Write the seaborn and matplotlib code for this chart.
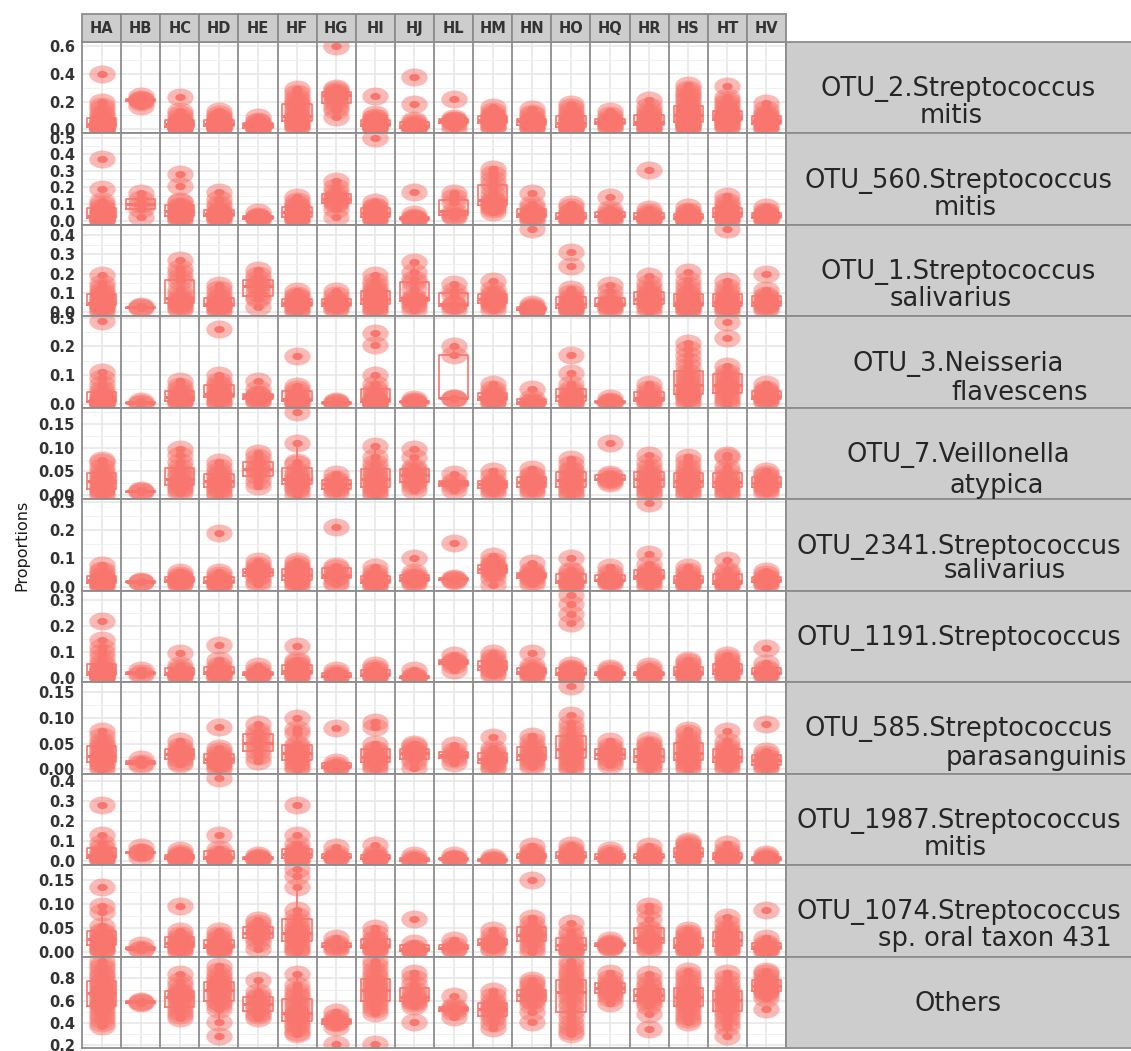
import numpy as np
import pandas as pd
import seaborn as sns
import matplotlib
matplotlib.use("Agg")
import matplotlib.pyplot as plt
from matplotlib.path import Path
from matplotlib.transforms import Affine2D
from matplotlib.patches import Rectangle
from matplotlib.ticker import MultipleLocator, FormatStrFormatter

plt.rcParams["font.family"] = ["DejaVu Sans"]
plt.rcParams["font.weight"] = "bold"

# ---------------------------------------------------------------- data
groups = ["HA", "HB", "HC", "HD", "HE", "HF", "HG", "HI", "HJ",
          "HL", "HM", "HN", "HO", "HQ", "HR", "HS", "HT", "HV"]

taxa_line1 = ["OTU_2.Streptococcus", "OTU_560.Streptococcus", "OTU_1.Streptococcus",
              "OTU_3.Neisseria", "OTU_7.Veillonella", "OTU_2341.Streptococcus",
              "OTU_1191.Streptococcus", "OTU_585.Streptococcus", "OTU_1987.Streptococcus",
              "OTU_1074.Streptococcus", "Others"]
taxa_line2 = ["mitis", "mitis", "salivarius", "flavescens", "atypica", "salivarius",
              "", "parasanguinis", "mitis", "sp. oral taxon 431", ""]

# proportions per subject, one list per group (order of `groups`)
otu2_mitis = [
    [0.40, 0.20, 0.17, 0.15, 0.12, 0.10, 0.08, 0.07, 0.06, 0.05, 0.05, 0.04, 0.04, 0.03, 0.03, 0.03, 0.02, 0.02, 0.02, 0.01, 0.01, 0.01, 0.005, 0.0, 0.0],
    [0.24, 0.22, 0.21, 0.21, 0.20, 0.17],
    [0.23, 0.13, 0.11, 0.09, 0.07, 0.06, 0.05, 0.04, 0.04, 0.04, 0.03, 0.03, 0.02, 0.02, 0.01, 0.01, 0.0],
    [0.13, 0.11, 0.09, 0.08, 0.07, 0.06, 0.05, 0.05, 0.04, 0.04, 0.04, 0.03, 0.03, 0.03, 0.02, 0.02, 0.01, 0.01, 0.0],
    [0.09, 0.06, 0.05, 0.04, 0.03, 0.03, 0.02, 0.01, 0.0, 0.0],
    [0.29, 0.26, 0.23, 0.21, 0.19, 0.18, 0.16, 0.14, 0.12, 0.10, 0.09, 0.08, 0.08, 0.07, 0.06, 0.05, 0.04, 0.03, 0.02, 0.01],
    [0.60, 0.30, 0.28, 0.27, 0.26, 0.25, 0.25, 0.23, 0.21, 0.19, 0.16, 0.14, 0.09],
    [0.24, 0.11, 0.09, 0.08, 0.07, 0.06, 0.05, 0.05, 0.04, 0.04, 0.03, 0.03, 0.03, 0.02, 0.02, 0.01, 0.01, 0.0],
    [0.38, 0.18, 0.07, 0.05, 0.04, 0.03, 0.02, 0.02, 0.01, 0.01, 0.0, 0.0],
    [0.22, 0.08, 0.07, 0.065, 0.06, 0.05, 0.03, 0.0],
    [0.16, 0.13, 0.11, 0.10, 0.09, 0.08, 0.08, 0.07, 0.07, 0.06, 0.05, 0.04, 0.03, 0.02, 0.01],
    [0.15, 0.12, 0.10, 0.08, 0.07, 0.07, 0.06, 0.06, 0.05, 0.04, 0.03, 0.02, 0.01, 0.0],
    [0.18, 0.16, 0.14, 0.12, 0.10, 0.09, 0.08, 0.07, 0.06, 0.05, 0.04, 0.04, 0.03, 0.03, 0.02, 0.02, 0.01, 0.01, 0.0, 0.0],
    [0.13, 0.10, 0.08, 0.07, 0.06, 0.05, 0.05, 0.04, 0.03, 0.02, 0.01],
    [0.21, 0.17, 0.14, 0.12, 0.10, 0.09, 0.08, 0.06, 0.05, 0.05, 0.04, 0.03, 0.02, 0.01, 0.0, 0.0],
    [0.32, 0.29, 0.27, 0.25, 0.23, 0.21, 0.19, 0.17, 0.15, 0.14, 0.13, 0.12, 0.11, 0.10, 0.10, 0.09, 0.08, 0.08, 0.07, 0.06, 0.06, 0.05, 0.04, 0.04, 0.03, 0.03, 0.02, 0.01, 0.0],
    [0.31, 0.23, 0.21, 0.19, 0.17, 0.15, 0.13, 0.12, 0.11, 0.10, 0.10, 0.09, 0.09, 0.09, 0.08, 0.08, 0.07, 0.07, 0.06, 0.05, 0.04, 0.03, 0.02, 0.01],
    [0.19, 0.15, 0.12, 0.10, 0.09, 0.08, 0.07, 0.06, 0.05, 0.05, 0.04, 0.03, 0.02, 0.01, 0.0],
]

otu560_mitis = [
    [0.37, 0.19, 0.12, 0.10, 0.08, 0.07, 0.06, 0.05, 0.04, 0.03, 0.03, 0.02, 0.02, 0.02, 0.01, 0.01, 0.01, 0.0, 0.0],
    [0.165, 0.13, 0.10, 0.07, 0.025],
    [0.28, 0.21, 0.12, 0.11, 0.09, 0.08, 0.07, 0.06, 0.055, 0.05, 0.04, 0.03, 0.03, 0.02, 0.01, 0.0],
    [0.17, 0.13, 0.10, 0.08, 0.06, 0.05, 0.05, 0.04, 0.04, 0.04, 0.03, 0.03, 0.02, 0.02, 0.01, 0.0],
    [0.05, 0.03, 0.025, 0.02, 0.015, 0.01, 0.005],
    [0.14, 0.12, 0.10, 0.09, 0.08, 0.07, 0.06, 0.05, 0.05, 0.04, 0.03, 0.02, 0.02, 0.01, 0.01, 0.0],
    [0.24, 0.20, 0.17, 0.15, 0.14, 0.13, 0.12, 0.11, 0.10, 0.07, 0.02],
    [0.50, 0.11, 0.09, 0.08, 0.07, 0.06, 0.05, 0.04, 0.04, 0.03, 0.02, 0.01, 0.01, 0.0],
    [0.17, 0.04, 0.02, 0.015, 0.01, 0.01, 0.005, 0.0],
    [0.165, 0.14, 0.11, 0.06, 0.04, 0.03, 0.02],
    [0.31, 0.28, 0.25, 0.22, 0.19, 0.16, 0.13, 0.12, 0.11, 0.10, 0.09, 0.08, 0.07, 0.05],
    [0.165, 0.10, 0.08, 0.06, 0.05, 0.04, 0.04, 0.03, 0.02, 0.01, 0.0],
    [0.10, 0.08, 0.06, 0.05, 0.04, 0.03, 0.03, 0.02, 0.02, 0.02, 0.01, 0.01, 0.0, 0.0],
    [0.145, 0.07, 0.05, 0.04, 0.03, 0.03, 0.02, 0.01, 0.0],
    [0.305, 0.07, 0.05, 0.04, 0.03, 0.02, 0.015, 0.01, 0.005, 0.0],
    [0.08, 0.06, 0.05, 0.04, 0.03, 0.025, 0.02, 0.015, 0.01, 0.01, 0.005, 0.0, 0.0],
    [0.15, 0.12, 0.10, 0.08, 0.07, 0.06, 0.05, 0.04, 0.03, 0.03, 0.02, 0.01, 0.01, 0.0],
    [0.08, 0.06, 0.05, 0.04, 0.04, 0.03, 0.03, 0.02, 0.01, 0.01, 0.0],
]

otu1_salivarius = [
    [0.19, 0.15, 0.13, 0.11, 0.10, 0.09, 0.08, 0.07, 0.06, 0.05, 0.05, 0.045, 0.04, 0.04, 0.03, 0.03, 0.02, 0.01, 0.0],
    [0.03, 0.025, 0.02],
    [0.27, 0.23, 0.21, 0.18, 0.16, 0.12, 0.10, 0.08, 0.07, 0.06, 0.055, 0.05, 0.04, 0.03, 0.02, 0.01],
    [0.14, 0.12, 0.10, 0.08, 0.07, 0.06, 0.05, 0.045, 0.04, 0.04, 0.03, 0.03, 0.02, 0.01, 0.0],
    [0.22, 0.19, 0.17, 0.15, 0.14, 0.13, 0.10, 0.08, 0.07, 0.025],
    [0.11, 0.09, 0.08, 0.07, 0.06, 0.055, 0.05, 0.05, 0.04, 0.03, 0.02, 0.01, 0.0],
    [0.11, 0.09, 0.07, 0.06, 0.05, 0.045, 0.04, 0.03, 0.02, 0.01],
    [0.19, 0.16, 0.14, 0.12, 0.11, 0.10, 0.09, 0.08, 0.07, 0.065, 0.06, 0.05, 0.04, 0.03, 0.02, 0.01, 0.0],
    [0.26, 0.21, 0.17, 0.155, 0.12, 0.08, 0.07, 0.065, 0.06, 0.045, 0.03, 0.01],
    [0.147, 0.11, 0.09, 0.04, 0.035, 0.03, 0.01],
    [0.16, 0.12, 0.10, 0.09, 0.08, 0.07, 0.065, 0.06, 0.05, 0.04, 0.03, 0.01],
    [0.43, 0.04, 0.03, 0.02, 0.02, 0.015, 0.01, 0.01, 0.005, 0.0],
    [0.31, 0.24, 0.12, 0.10, 0.08, 0.07, 0.06, 0.05, 0.04, 0.035, 0.03, 0.03, 0.02, 0.02, 0.01, 0.01, 0.0],
    [0.14, 0.11, 0.08, 0.06, 0.05, 0.04, 0.035, 0.03, 0.02, 0.01],
    [0.186, 0.15, 0.13, 0.11, 0.10, 0.09, 0.08, 0.07, 0.065, 0.06, 0.05, 0.04, 0.03, 0.02, 0.0],
    [0.206, 0.164, 0.14, 0.12, 0.10, 0.09, 0.08, 0.07, 0.06, 0.05, 0.045, 0.04, 0.035, 0.03, 0.03, 0.02, 0.02, 0.01, 0.0],
    [0.43, 0.16, 0.13, 0.11, 0.09, 0.08, 0.07, 0.06, 0.05, 0.04, 0.035, 0.03, 0.03, 0.02, 0.01, 0.0],
    [0.198, 0.113, 0.09, 0.08, 0.07, 0.06, 0.05, 0.04, 0.035, 0.03, 0.02, 0.01],
]

otu3_flavescens = [
    [0.29, 0.11, 0.09, 0.07, 0.05, 0.04, 0.03, 0.02, 0.02, 0.015, 0.01, 0.01, 0.01, 0.01, 0.005, 0.005, 0.005, 0.0, 0.0, 0.0, 0.0],
    [0.008, 0.004, 0.0],
    [0.08, 0.06, 0.05, 0.04, 0.03, 0.025, 0.02, 0.015, 0.01, 0.01, 0.005, 0.0],
    [0.26, 0.10, 0.08, 0.07, 0.06, 0.05, 0.04, 0.035, 0.03, 0.03, 0.025, 0.02, 0.01, 0.005, 0.0],
    [0.08, 0.05, 0.035, 0.03, 0.025, 0.02, 0.015, 0.01, 0.005],
    [0.165, 0.06, 0.05, 0.04, 0.03, 0.02, 0.015, 0.01, 0.01, 0.005, 0.0, 0.0],
    [0.008, 0.005, 0.003, 0.0],
    [0.246, 0.204, 0.10, 0.07, 0.05, 0.04, 0.03, 0.02, 0.015, 0.01, 0.01, 0.005, 0.005, 0.0, 0.0, 0.0, 0.0],
    [0.015, 0.01, 0.005, 0.005, 0.0],
    [0.20, 0.17, 0.02, 0.02, 0.015],
    [0.07, 0.05, 0.04, 0.03, 0.025, 0.02, 0.015, 0.01, 0.005, 0.0],
    [0.05, 0.02, 0.01, 0.005, 0.0, 0.0, 0.0],
    [0.168, 0.106, 0.07, 0.05, 0.04, 0.03, 0.025, 0.02, 0.015, 0.01, 0.005, 0.0, 0.0],
    [0.02, 0.01, 0.007, 0.005, 0.0],
    [0.07, 0.05, 0.04, 0.03, 0.02, 0.015, 0.01, 0.005, 0.0],
    [0.21, 0.19, 0.17, 0.15, 0.13, 0.11, 0.10, 0.09, 0.08, 0.07, 0.06, 0.05, 0.045, 0.04, 0.035, 0.03, 0.025, 0.02, 0.01, 0.0],
    [0.285, 0.23, 0.13, 0.11, 0.10, 0.09, 0.08, 0.07, 0.06, 0.055, 0.05, 0.04, 0.03, 0.02, 0.01, 0.0],
    [0.07, 0.05, 0.045, 0.04, 0.03, 0.025, 0.02, 0.015, 0.01, 0.005],
]

otu7_atypica = [
    [0.075, 0.07, 0.06, 0.05, 0.045, 0.04, 0.035, 0.03, 0.03, 0.025, 0.02, 0.015, 0.01, 0.01, 0.005, 0.0],
    [0.01, 0.008, 0.006],
    [0.098, 0.085, 0.07, 0.06, 0.05, 0.045, 0.04, 0.03, 0.028, 0.025, 0.02, 0.015, 0.01, 0.005],
    [0.07, 0.06, 0.05, 0.045, 0.04, 0.035, 0.03, 0.028, 0.025, 0.02, 0.015, 0.01, 0.005, 0.0],
    [0.09, 0.08, 0.07, 0.06, 0.055, 0.05, 0.04, 0.03, 0.02],
    [0.176, 0.11, 0.07, 0.065, 0.05, 0.045, 0.04, 0.035, 0.035, 0.03, 0.025, 0.02, 0.015, 0.01, 0.0],
    [0.045, 0.035, 0.03, 0.025, 0.02, 0.015, 0.01, 0.005],
    [0.105, 0.08, 0.067, 0.06, 0.05, 0.045, 0.04, 0.035, 0.03, 0.025, 0.02, 0.015, 0.01, 0.005, 0.0],
    [0.098, 0.08, 0.06, 0.055, 0.05, 0.045, 0.04, 0.035, 0.03, 0.025, 0.02, 0.01],
    [0.045, 0.03, 0.025, 0.02, 0.01],
    [0.05, 0.04, 0.03, 0.025, 0.023, 0.02, 0.015, 0.01, 0.005],
    [0.056, 0.045, 0.04, 0.035, 0.03, 0.028, 0.025, 0.02, 0.015, 0.01, 0.005],
    [0.077, 0.065, 0.055, 0.05, 0.045, 0.04, 0.035, 0.03, 0.025, 0.02, 0.015, 0.01, 0.005, 0.0],
    [0.11, 0.045, 0.04, 0.035, 0.035, 0.03, 0.025],
    [0.085, 0.07, 0.06, 0.05, 0.045, 0.04, 0.037, 0.03, 0.025, 0.02, 0.015, 0.01, 0.005, 0.0],
    [0.08, 0.07, 0.06, 0.05, 0.045, 0.04, 0.035, 0.03, 0.027, 0.025, 0.02, 0.015, 0.01, 0.005, 0.0],
    [0.085, 0.08, 0.06, 0.05, 0.04, 0.035, 0.03, 0.025, 0.023, 0.02, 0.015, 0.01, 0.005, 0.0],
    [0.05, 0.045, 0.04, 0.035, 0.03, 0.025, 0.022, 0.02, 0.015, 0.01, 0.005],
]

otu2341_salivarius = [
    [0.075, 0.06, 0.05, 0.04, 0.035, 0.03, 0.025, 0.02, 0.02, 0.015, 0.01, 0.01, 0.005, 0.0],
    [0.02, 0.017, 0.015],
    [0.05, 0.04, 0.035, 0.03, 0.025, 0.023, 0.02, 0.015, 0.01, 0.005],
    [0.19, 0.05, 0.04, 0.03, 0.025, 0.02, 0.015, 0.015, 0.01, 0.005, 0.0],
    [0.09, 0.075, 0.065, 0.06, 0.055, 0.05, 0.04, 0.035, 0.02, 0.01],
    [0.09, 0.08, 0.07, 0.065, 0.06, 0.055, 0.05, 0.045, 0.04, 0.035, 0.03, 0.025, 0.02, 0.015, 0.01, 0.0],
    [0.21, 0.073, 0.065, 0.05, 0.04, 0.035, 0.03, 0.015, 0.01],
    [0.07, 0.05, 0.04, 0.035, 0.03, 0.025, 0.02, 0.015, 0.01, 0.005, 0.0],
    [0.10, 0.05, 0.04, 0.035, 0.03, 0.027, 0.02, 0.015, 0.01],
    [0.156, 0.03, 0.027, 0.025, 0.02],
    [0.108, 0.09, 0.08, 0.075, 0.07, 0.065, 0.063, 0.06, 0.05, 0.045, 0.03, 0.004],
    [0.085, 0.06, 0.05, 0.045, 0.04, 0.04, 0.035, 0.03, 0.02, 0.01],
    [0.10, 0.06, 0.05, 0.04, 0.03, 0.02, 0.015, 0.015, 0.01, 0.005, 0.0],
    [0.07, 0.05, 0.04, 0.03, 0.025, 0.023, 0.02, 0.015, 0.01],
    [0.295, 0.114, 0.08, 0.06, 0.05, 0.045, 0.04, 0.037, 0.035, 0.03, 0.025, 0.02, 0.01, 0.0],
    [0.07, 0.055, 0.045, 0.035, 0.03, 0.025, 0.02, 0.015, 0.013, 0.01, 0.005, 0.0],
    [0.096, 0.06, 0.05, 0.04, 0.03, 0.02, 0.015, 0.01, 0.01, 0.005, 0.0],
    [0.055, 0.045, 0.035, 0.03, 0.025, 0.02, 0.019, 0.015, 0.01, 0.005],
]

otu1191 = [
    [0.217, 0.144, 0.12, 0.10, 0.08, 0.06, 0.05, 0.04, 0.035, 0.03, 0.03, 0.025, 0.02, 0.02, 0.02, 0.015, 0.015, 0.01, 0.01, 0.01, 0.005, 0.005, 0.0, 0.0],
    [0.03, 0.018, 0.012],
    [0.097, 0.05, 0.04, 0.03, 0.02, 0.015, 0.012, 0.01, 0.005, 0.0],
    [0.127, 0.07, 0.05, 0.04, 0.03, 0.025, 0.02, 0.018, 0.015, 0.01, 0.005, 0.0],
    [0.045, 0.03, 0.02, 0.015, 0.012, 0.01, 0.005],
    [0.123, 0.07, 0.06, 0.05, 0.045, 0.04, 0.03, 0.025, 0.024, 0.02, 0.015, 0.01, 0.005, 0.0],
    [0.03, 0.02, 0.01, 0.008, 0.005, 0.0],
    [0.05, 0.04, 0.03, 0.02, 0.015, 0.01, 0.008, 0.005, 0.0],
    [0.03, 0.01, 0.005, 0.003, 0.0, 0.0],
    [0.09, 0.07, 0.06, 0.06, 0.05, 0.03],
    [0.095, 0.08, 0.07, 0.06, 0.05, 0.046, 0.04, 0.035, 0.03, 0.02, 0.01],
    [0.095, 0.05, 0.04, 0.03, 0.025, 0.024, 0.02, 0.015, 0.01, 0.0],
    [0.319, 0.285, 0.246, 0.21, 0.05, 0.04, 0.035, 0.03, 0.025, 0.02, 0.02, 0.018, 0.015, 0.015, 0.01, 0.01, 0.01, 0.005, 0.005, 0.0, 0.0, 0.0],
    [0.04, 0.03, 0.02, 0.015, 0.012, 0.01, 0.005],
    [0.045, 0.035, 0.025, 0.02, 0.015, 0.012, 0.01, 0.005, 0.0],
    [0.07, 0.06, 0.05, 0.04, 0.03, 0.025, 0.02, 0.015, 0.012, 0.01, 0.005, 0.0],
    [0.088, 0.075, 0.065, 0.055, 0.05, 0.04, 0.035, 0.03, 0.028, 0.02, 0.015, 0.01, 0.005, 0.0],
    [0.114, 0.056, 0.04, 0.03, 0.02, 0.018, 0.015, 0.01, 0.005],
]

otu585_parasanguinis = [
    [0.075, 0.064, 0.055, 0.05, 0.045, 0.04, 0.035, 0.03, 0.027, 0.025, 0.02, 0.02, 0.015, 0.012, 0.01, 0.005, 0.0],
    [0.02, 0.012, 0.008],
    [0.055, 0.045, 0.04, 0.035, 0.031, 0.03, 0.025, 0.02, 0.015, 0.01],
    [0.082, 0.042, 0.035, 0.03, 0.025, 0.022, 0.02, 0.018, 0.015, 0.012, 0.01, 0.005, 0.0],
    [0.088, 0.075, 0.069, 0.06, 0.051, 0.045, 0.035, 0.027, 0.016],
    [0.10, 0.078, 0.07, 0.05, 0.045, 0.04, 0.035, 0.032, 0.029, 0.025, 0.02, 0.015, 0.01, 0.005, 0.0],
    [0.08, 0.015, 0.008, 0.005, 0.003, 0.0],
    [0.091, 0.083, 0.05, 0.04, 0.035, 0.03, 0.025, 0.022, 0.02, 0.015, 0.01, 0.005, 0.0],
    [0.05, 0.045, 0.04, 0.035, 0.032, 0.03, 0.02, 0.015, 0.003],
    [0.048, 0.035, 0.03, 0.027, 0.02, 0.012],
    [0.063, 0.042, 0.035, 0.03, 0.025, 0.02, 0.018, 0.015, 0.01, 0.005, 0.0],
    [0.065, 0.055, 0.048, 0.042, 0.035, 0.03, 0.028, 0.025, 0.02, 0.016, 0.01, 0.005],
    [0.161, 0.106, 0.09, 0.08, 0.07, 0.06, 0.055, 0.05, 0.045, 0.04, 0.035, 0.035, 0.03, 0.025, 0.02, 0.015, 0.01, 0.005, 0.0],
    [0.055, 0.045, 0.04, 0.035, 0.031, 0.03, 0.025, 0.02, 0.015, 0.008],
    [0.058, 0.05, 0.045, 0.04, 0.035, 0.03, 0.027, 0.025, 0.02, 0.015, 0.01, 0.005, 0.0],
    [0.077, 0.07, 0.06, 0.055, 0.05, 0.045, 0.04, 0.035, 0.03, 0.025, 0.022, 0.02, 0.015, 0.01, 0.005, 0.0],
    [0.074, 0.055, 0.045, 0.04, 0.035, 0.03, 0.025, 0.02, 0.018, 0.015, 0.01, 0.005, 0.0],
    [0.088, 0.035, 0.03, 0.025, 0.02, 0.016, 0.012, 0.008, 0.005, 0.0],
]

otu1987_mitis = [
    [0.277, 0.127, 0.09, 0.07, 0.05, 0.04, 0.03, 0.025, 0.02, 0.018, 0.015, 0.01, 0.005, 0.0],
    [0.068, 0.045, 0.043, 0.04, 0.018],
    [0.055, 0.04, 0.03, 0.025, 0.02, 0.018, 0.015, 0.01, 0.005, 0.0],
    [0.415, 0.127, 0.06, 0.04, 0.03, 0.02, 0.015, 0.01, 0.01, 0.005, 0.0],
    [0.03, 0.02, 0.015, 0.01, 0.008, 0.005],
    [0.277, 0.127, 0.085, 0.06, 0.05, 0.04, 0.035, 0.03, 0.027, 0.02, 0.015, 0.01, 0.005, 0.0],
    [0.072, 0.04, 0.025, 0.02, 0.018, 0.015, 0.01],
    [0.082, 0.04, 0.03, 0.02, 0.015, 0.01, 0.008, 0.005, 0.0],
    [0.03, 0.015, 0.005, 0.002, 0.0],
    [0.03, 0.015, 0.01, 0.008, 0.005],
    [0.02, 0.01, 0.005, 0.002, 0.0],
    [0.075, 0.05, 0.04, 0.03, 0.025, 0.02, 0.018, 0.015, 0.01, 0.005, 0.0],
    [0.08, 0.06, 0.05, 0.04, 0.03, 0.025, 0.02, 0.018, 0.015, 0.01, 0.005, 0.0],
    [0.055, 0.04, 0.03, 0.02, 0.015, 0.01, 0.008, 0.005],
    [0.075, 0.05, 0.04, 0.03, 0.025, 0.02, 0.018, 0.015, 0.01, 0.005, 0.0],
    [0.10, 0.09, 0.08, 0.07, 0.06, 0.05, 0.045, 0.04, 0.035, 0.03, 0.027, 0.02, 0.015, 0.01, 0.005, 0.0],
    [0.085, 0.06, 0.045, 0.035, 0.025, 0.02, 0.015, 0.013, 0.01, 0.005, 0.0],
    [0.035, 0.025, 0.015, 0.01, 0.008, 0.005, 0.0],
]

otu1074_oral431 = [
    [0.135, 0.096, 0.083, 0.054, 0.045, 0.04, 0.035, 0.03, 0.028, 0.025, 0.02, 0.018, 0.015, 0.01, 0.008, 0.005, 0.0],
    [0.015, 0.008, 0.005],
    [0.096, 0.044, 0.035, 0.03, 0.025, 0.021, 0.018, 0.016, 0.012, 0.01, 0.005, 0.0],
    [0.044, 0.035, 0.03, 0.025, 0.02, 0.016, 0.014, 0.012, 0.01, 0.008, 0.005, 0.0],
    [0.066, 0.06, 0.053, 0.048, 0.042, 0.04, 0.035, 0.027, 0.02, 0.0075],
    [0.172, 0.157, 0.135, 0.088, 0.075, 0.065, 0.055, 0.05, 0.045, 0.04, 0.037, 0.035, 0.03, 0.027, 0.02, 0.015, 0.01, 0.005, 0.0],
    [0.03, 0.02, 0.015, 0.013, 0.01, 0.005],
    [0.05, 0.04, 0.03, 0.025, 0.02, 0.015, 0.013, 0.01, 0.008, 0.005, 0.0],
    [0.069, 0.02, 0.01, 0.007, 0.005, 0.0, 0.0],
    [0.025, 0.015, 0.01, 0.0075, 0.005],
    [0.047, 0.035, 0.028, 0.022, 0.02, 0.018, 0.015, 0.01, 0.005],
    [0.15, 0.071, 0.06, 0.053, 0.045, 0.04, 0.037, 0.035, 0.03, 0.023, 0.015, 0.01, 0.0],
    [0.06, 0.045, 0.035, 0.025, 0.02, 0.015, 0.01, 0.005, 0.005, 0.0, 0.0],
    [0.025, 0.02, 0.018, 0.016, 0.014, 0.012, 0.01],
    [0.095, 0.085, 0.07, 0.05, 0.047, 0.04, 0.03, 0.025, 0.023, 0.02, 0.015, 0.01, 0.005],
    [0.047, 0.04, 0.035, 0.03, 0.025, 0.02, 0.016, 0.014, 0.013, 0.01, 0.008, 0.005, 0.0],
    [0.073, 0.06, 0.05, 0.045, 0.04, 0.035, 0.03, 0.025, 0.023, 0.02, 0.015, 0.012, 0.008, 0.005, 0.0],
    [0.088, 0.03, 0.02, 0.015, 0.012, 0.01, 0.008, 0.005, 0.0],
]

others = [
    [0.955, 0.92, 0.89, 0.86, 0.83, 0.81, 0.78, 0.76, 0.74, 0.72, 0.70, 0.68, 0.67, 0.66, 0.64, 0.62, 0.60, 0.58, 0.57, 0.55, 0.52, 0.49, 0.46, 0.43, 0.40, 0.37],
    [0.60, 0.585, 0.58],
    [0.84, 0.78, 0.74, 0.70, 0.68, 0.66, 0.65, 0.644, 0.63, 0.61, 0.58, 0.55, 0.52, 0.50, 0.47, 0.44],
    [0.91, 0.87, 0.83, 0.80, 0.78, 0.76, 0.74, 0.73, 0.72, 0.70, 0.68, 0.66, 0.63, 0.60, 0.59, 0.56, 0.52, 0.41, 0.28],
    [0.79, 0.68, 0.64, 0.62, 0.60, 0.57, 0.55, 0.52, 0.49, 0.47, 0.44],
    [0.84, 0.74, 0.70, 0.66, 0.63, 0.60, 0.57, 0.54, 0.51, 0.49, 0.48, 0.47, 0.45, 0.43, 0.40, 0.38, 0.35, 0.32, 0.30],
    [0.50, 0.45, 0.43, 0.42, 0.41, 0.40, 0.36, 0.21],
    [0.96, 0.92, 0.88, 0.84, 0.81, 0.78, 0.76, 0.74, 0.72, 0.70, 0.68, 0.66, 0.63, 0.61, 0.58, 0.55, 0.52, 0.49, 0.21],
    [0.85, 0.80, 0.75, 0.70, 0.67, 0.64, 0.62, 0.61, 0.60, 0.58, 0.55, 0.41],
    [0.64, 0.55, 0.53, 0.52, 0.50, 0.45],
    [0.69, 0.64, 0.60, 0.57, 0.55, 0.53, 0.52, 0.50, 0.47, 0.44, 0.40, 0.35],
    [0.79, 0.76, 0.73, 0.70, 0.68, 0.66, 0.65, 0.63, 0.61, 0.60, 0.56, 0.50, 0.41],
    [0.955, 0.92, 0.88, 0.85, 0.82, 0.79, 0.76, 0.74, 0.73, 0.71, 0.68, 0.65, 0.62, 0.58, 0.55, 0.50, 0.45, 0.40, 0.36, 0.33, 0.30],
    [0.85, 0.80, 0.77, 0.75, 0.73, 0.72, 0.71, 0.69, 0.67, 0.65, 0.62, 0.58],
    [0.84, 0.79, 0.75, 0.72, 0.69, 0.67, 0.66, 0.65, 0.64, 0.62, 0.61, 0.58, 0.55, 0.48, 0.34],
    [0.87, 0.83, 0.80, 0.77, 0.74, 0.71, 0.69, 0.67, 0.66, 0.64, 0.63, 0.62, 0.60, 0.59, 0.57, 0.55, 0.52, 0.49, 0.46, 0.43, 0.41],
    [0.85, 0.80, 0.76, 0.72, 0.70, 0.68, 0.66, 0.64, 0.62, 0.61, 0.60, 0.58, 0.55, 0.54, 0.51, 0.48, 0.44, 0.40, 0.36, 0.28],
    [0.87, 0.85, 0.82, 0.79, 0.78, 0.76, 0.74, 0.73, 0.72, 0.70, 0.69, 0.68, 0.66, 0.62, 0.52],
]

taxa_values = [otu2_mitis, otu560_mitis, otu1_salivarius, otu3_flavescens, otu7_atypica,
               otu2341_salivarius, otu1191, otu585_parasanguinis, otu1987_mitis,
               otu1074_oral431, others]

# ------------------------------------------------------------- styling
RED = "#F8766D"
STRIP = "#CDCDCD"
BORDER = "#8C8C8C"
W_PX, H_PX = 1131, 1051
tick_step = [0.2, 0.1, 0.1, 0.1, 0.05, 0.1, 0.1, 0.05, 0.1, 0.05, 0.2]
tick_fmt = ["%.1f", "%.1f", "%.1f", "%.1f", "%.2f", "%.1f", "%.1f", "%.2f", "%.1f", "%.2f", "%.1f"]
line2_xpx = [951, 965, 951, 1020, 997, 1005, None, 1036, 955, 995, None]
line2_dy = [35, 36, 35, 38, 39, 33, 0, 37, 36, 35, 0]

# slightly flattened circle used for both the halo and the core point
flat_dot = Path.unit_circle().transformed(Affine2D().scale(1.0, 0.68))

fig = plt.figure(figsize=(W_PX / 100, H_PX / 100), dpi=100)
n_rows = len(taxa_values)
gs = fig.add_gridspec(n_rows, 1, left=82 / W_PX, right=786 / W_PX,
                      top=1 - 42 / H_PX, bottom=1 - 1048 / H_PX, hspace=0)


def fx(px):
    return px / W_PX


def fy(py):
    return 1 - py / H_PX


axes = []
for ri, row in enumerate(taxa_values):
    recs = [(grp, v) for grp, vals in zip(groups, row) for v in vals]
    d = pd.DataFrame(recs, columns=["group", "value"])
    ax = fig.add_subplot(gs[ri, 0])
    axes.append(ax)

    sns.stripplot(data=d, x="group", y="value", order=groups, jitter=False, color=RED,
                  alpha=0.5, size=19, marker=flat_dot, linewidth=0, ax=ax)
    sns.stripplot(data=d, x="group", y="value", order=groups, jitter=False, color=RED,
                  size=7.5, marker=flat_dot, linewidth=0, ax=ax)
    sns.boxplot(data=d, x="group", y="value", order=groups, fill=False, color=RED,
                width=0.75, showfliers=False, showcaps=False, linewidth=1.2,
                medianprops=dict(linewidth=2.2), ax=ax)

    lo, hi = d["value"].min(), d["value"].max()
    pad = 0.05 * (hi - lo)
    ax.set_ylim(lo - pad, hi + pad)
    ax.set_xlim(-0.5, len(groups) - 0.5)
    ax.yaxis.set_major_locator(MultipleLocator(tick_step[ri]))
    ax.yaxis.set_minor_locator(MultipleLocator(tick_step[ri] / 2))
    ax.yaxis.set_major_formatter(FormatStrFormatter(tick_fmt[ri]))
    ax.set_facecolor("white")
    ax.set_axisbelow(True)
    ax.grid(True, axis="y", which="major", color="#E6E6E6", linewidth=1.1)
    ax.grid(True, axis="y", which="minor", color="#F0F0F0", linewidth=0.7)
    ax.grid(True, axis="x", which="major", color="#E6E6E6", linewidth=1.1)
    ax.tick_params(axis="x", length=0, labelbottom=False)
    ax.tick_params(axis="y", which="both", length=0, pad=5,
                   labelsize=10.5, labelcolor="#333333")
    ax.set_xlabel("")
    ax.set_ylabel("")
    # panel separators between groups
    for k in range(1, len(groups)):
        ax.axvline(k - 0.5, color=BORDER, linewidth=1.3, zorder=5)
    for sp in ax.spines.values():
        sp.set_visible(True)
        sp.set_color(BORDER)
        sp.set_linewidth(1.3)
        sp.set_zorder(6)

# column strips
x0 = fx(82)
col_w = (fx(786) - fx(82)) / len(groups)
for ci, grp in enumerate(groups):
    fig.patches.append(Rectangle((x0 + ci * col_w, fy(42)), col_w, fy(14) - fy(42),
                                 transform=fig.transFigure, facecolor=STRIP,
                                 edgecolor=BORDER, linewidth=1.3, zorder=0))
    fig.text(x0 + (ci + 0.5) * col_w, fy(28.5), grp, ha="center", va="center",
             fontsize=10.5, fontweight="bold", color="#333333")

# row strips
strip_cx = (786 + W_PX) / 2
for ri, ax in enumerate(axes):
    pos = ax.get_position()
    fig.patches.append(Rectangle((fx(786), pos.y0), fx(W_PX + 10) - fx(786), pos.height,
                                 transform=fig.transFigure, facecolor=STRIP,
                                 edgecolor=BORDER, linewidth=1.3, zorder=0))
    cy = (1 - (pos.y0 + pos.y1) / 2) * H_PX
    fig.text(fx(strip_cx), fy(cy + 8.5), taxa_line1[ri], ha="center", va="baseline",
             fontsize=18.5, fontweight="normal", color="#262626")
    if taxa_line2[ri]:
        fig.text(fx(line2_xpx[ri]), fy(cy + line2_dy[ri]), taxa_line2[ri], ha="center",
                 va="baseline", fontsize=18.5, fontweight="normal", color="#262626")

fig.text(fx(22), fy(545), "Proportions", rotation=90, ha="center", va="center",
         fontsize=11.5, fontweight="normal", color="#1A1A1A")

fig.savefig("out.png", dpi=100)
